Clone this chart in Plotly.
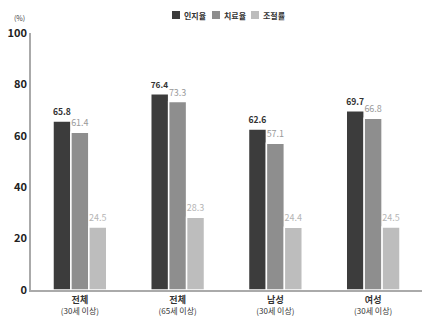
import plotly.graph_objects as go

# Hypertension awareness / treatment / control rates by group (%)
groups = ["전체", "전체", "남성", "여성"]
age_ranges = ["(30세 이상)", "(65세 이상)", "(30세 이상)", "(30세 이상)"]
categories = [f"{g}<br>{a}" for g, a in zip(groups, age_ranges)]
awareness = [65.8, 76.4, 62.6, 69.7]
treatment = [61.4, 73.3, 57.1, 66.8]
control = [24.5, 28.3, 24.4, 24.5]
series_names = ["인지율", "치료율", "조절률"]
y_ticks = [0, 20, 40, 60, 80, 100]

FONT = "Noto Sans CJK KR"
bar_colors = ["#3c3c3c", "#8e8e8e", "#bdbdbd"]
label_colors = ["#333333", "#9a9a9a", "#b5b5b5"]
label_templates = ["<b>%{y:.1f}</b>", "%{y:.1f}", "%{y:.1f}"]

# pixel geometry of the plot area, used to place the compact legend
W, H = 422, 323
ML, MR, MT, MB = 31, 0, 33, 33
PW, PH = W - ML - MR, H - MT - MB


def px_x(px):
    return (px - ML) / PW


def px_y(py):
    return (H - MB - py) / PH


fig = go.Figure()
for name, vals, bc, lc, tt in zip(series_names, [awareness, treatment, control],
                                  bar_colors, label_colors, label_templates):
    fig.add_trace(go.Bar(
        x=categories, y=vals, name=name, showlegend=False,
        marker=dict(color=bc, line=dict(color="white", width=1.5)),
        texttemplate=tt, textposition="outside",
        textfont=dict(family=FONT, size=9, color=lc),
        cliponaxis=False,
    ))

# compact legend: swatch + label for each series
shapes, annotations = [], []
legend_x = [172, 212, 251]
for name, bc, lx in zip(series_names, bar_colors, legend_x):
    shapes.append(dict(type="rect", xref="paper", yref="paper",
                       x0=px_x(lx), x1=px_x(lx + 8), y0=px_y(19), y1=px_y(11),
                       fillcolor=bc, line=dict(width=0)))
    annotations.append(dict(text=f"<b>{name}</b>", xref="paper", yref="paper",
                            x=px_x(lx + 10), y=px_y(15), xanchor="left", yanchor="middle",
                            showarrow=False, font=dict(size=8, color="#333333")))
annotations.append(dict(text="(%)", xref="paper", yref="paper", x=px_x(19), y=px_y(18),
                        showarrow=False, font=dict(size=7, color="#444444"),
                        xanchor="center", yanchor="middle"))

fig.update_layout(
    width=W, height=H,
    margin=dict(l=ML, r=MR, t=MT, b=MB),
    paper_bgcolor="white", plot_bgcolor="white",
    barmode="group", bargap=0.45, bargroupgap=0,
    font=dict(family=FONT, color="#222222"),
    showlegend=False,
    shapes=shapes, annotations=annotations,
)
fig.update_yaxes(range=[0, 100], tickvals=y_ticks, showgrid=False, zeroline=False,
                 showline=True, linecolor="#aaaaaa", linewidth=1.5, ticks="",
                 tickfont=dict(size=11, color="#222222", weight=600))
fig.update_xaxes(showgrid=False, showline=True, linecolor="#aaaaaa", linewidth=1.5,
                 ticks="", tickfont=dict(size=9, color="#333333"),
                 tickvals=categories,
                 ticktext=[f"<b>{g}</b><br><span style='font-size:8px'>{a}</span>"
                           for g, a in zip(groups, age_ranges)])

fig.write_html("out.html")
